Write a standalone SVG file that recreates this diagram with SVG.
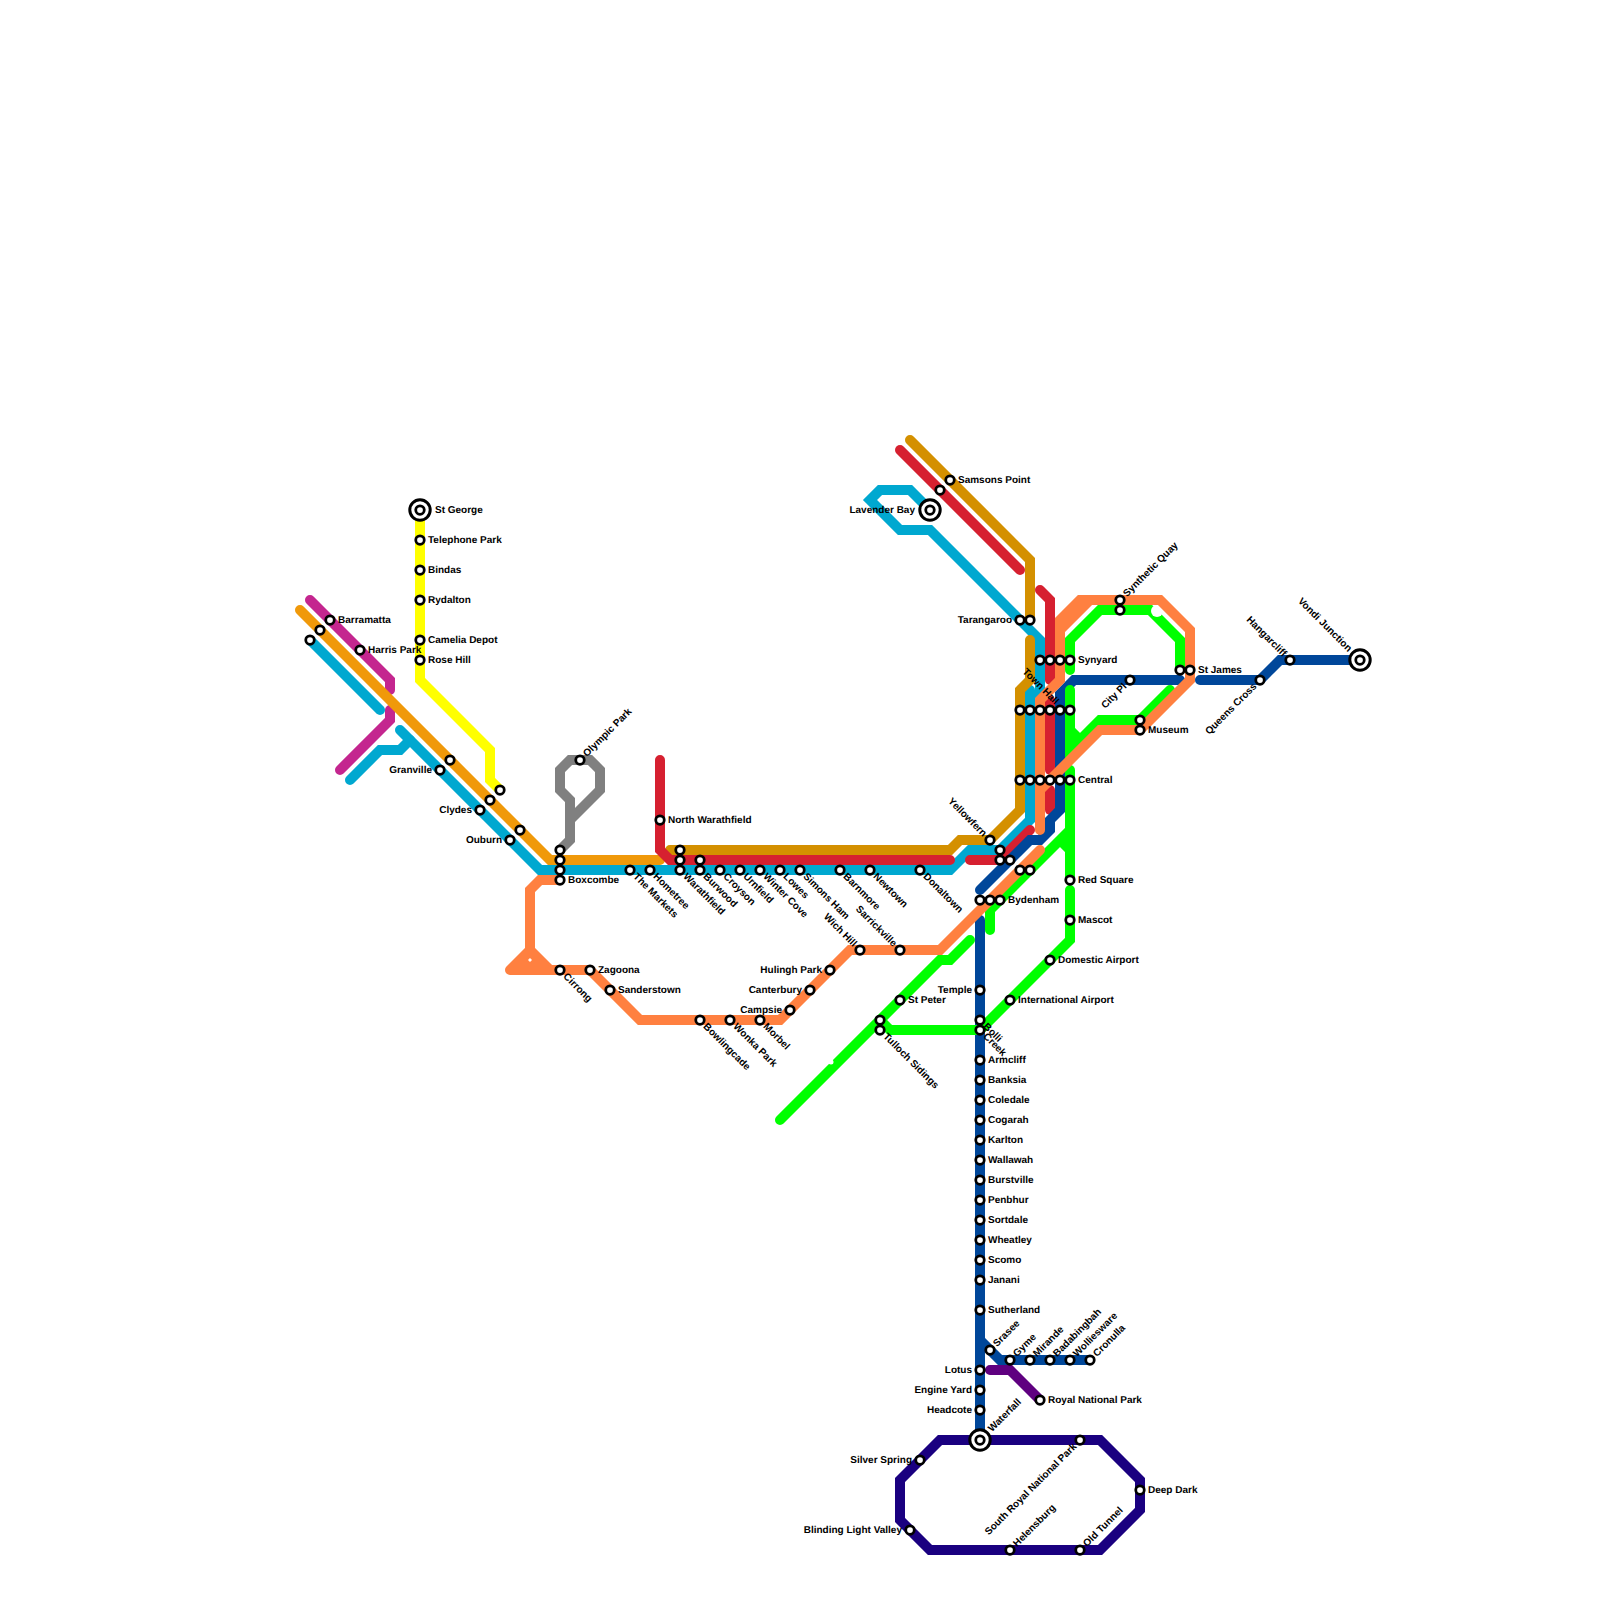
<svg xmlns="http://www.w3.org/2000/svg" width="1600" height="1600" viewBox="0 0 1600 1600">
<style>
.l{fill:none;stroke-width:10;stroke-linecap:round;stroke-linejoin:miter}
.s{fill:#fff;stroke:#000;stroke-width:2.750}
.i{fill:#fff;stroke:#000;stroke-width:3}
text{font-family:"Liberation Sans",Arial,sans-serif;font-weight:bold;font-size:10px;fill:#000;text-rendering:geometricPrecision}
.e{text-anchor:end}
</style>
<rect width="1600" height="1600" fill="#fff"/>
<g id="connectors">
<path id="line-yellow" class="l" stroke="#ffff00" d="M420 510V680L490 750V780L500 790"/>
<path id="line-magenta-a" class="l" stroke="#c4268f" d="M310 600L390 680V690"/>
<path id="line-magenta-b" class="l" stroke="#c4268f" d="M390 710V720L340 770"/>
<path id="line-amber" class="l" stroke="#f0990a" d="M300 610L550 860H660"/>
<path id="line-blue-a" class="l" stroke="#00a8d0" d="M310 640L380 710"/>
<path id="line-blue-b" class="l" stroke="#00a8d0" d="M350 780L380 750H400L410 740"/>
<path id="line-blue-c" class="l" stroke="#00a8d0" d="M400 730L540 870H950L970 850H1000L1030 820V690"/>
<path id="line-blue-d" class="l" stroke="#00a8d0" d="M1040 700V640L930 530H900L870 500L880 490H910L930 510"/>
<path id="line-gray" class="l" stroke="#808080" d="M560 850L570 840V800L560 790V770L570 760H590L600 770V790L570 820"/>
<path id="line-gold-a" class="l" stroke="#d49000" d="M910 440L1030 560V620"/>
<path id="line-gold-b" class="l" stroke="#d49000" d="M1030 640V680L1020 690V810L990 840H960L950 850H670"/>
<path id="line-red-a" class="l" stroke="#d62030" d="M660 760V850L670 860H950"/>
<path id="line-red-b" class="l" stroke="#d62030" d="M970 860H1000L1030 830"/>
<path id="line-red-c" class="l" stroke="#d62030" d="M900 450L1020 570"/>
<path id="line-red-d" class="l" stroke="#d62030" d="M1040 590L1050 600V680"/>
<path id="line-red-e" class="l" stroke="#d62030" d="M1050 700V770"/>
<path id="line-red-f" class="l" stroke="#d62030" d="M1050 790V810"/>
<path id="line-navy-a" class="l" stroke="#00479a" d="M980 920V1440"/>
<path id="line-navy-b" class="l" stroke="#00479a" d="M980 890L1030 840H1040L1050 830V820L1060 810V694L1074 680H1180"/>
<path id="line-navy-c" class="l" stroke="#00479a" d="M1200 680H1260L1280 660H1360"/>
<path id="line-navy-d" class="l" stroke="#00479a" d="M980 1340L1000 1360H1090"/>
<path id="line-purple" class="l" stroke="#5f0080" d="M990 1370H1010L1040 1400"/>
<path id="line-dark" class="l" stroke="#1a0080" d="M980 1440H1100L1140 1480V1510L1100 1550H930L900 1520V1480L940 1440H980"/>
<path id="line-green-a" class="l" stroke="#00ff00" d="M780 1120L940 960H950L970 940"/>
<circle cx="831" cy="1062" r="2.500" fill="#fff"/>
<path id="line-green-c" class="l" stroke="#00ff00" d="M880 1020L890 1030H980L1070 940V890"/>
<path id="line-green-d" class="l" stroke="#00ff00" d="M990 930V910L1070 830M1060 840L1070 850V878"/>
<path id="line-green-e" class="l" stroke="#00ff00" d="M1070 770V850"/>
<path id="line-green-f" class="l" stroke="#00ff00" d="M1070 670V640L1100 610H1150L1180 640V670"/>
<path id="line-green-g" class="l" stroke="#00ff00" d="M1070 690V750L1100 720H1140L1170 690"/>
<path id="line-green-h" class="l" stroke="#00ff00" d="M1070 730L1080 740"/>
<circle cx="1157" cy="611" r="6" fill="#fff"/>
<path id="line-orange-a" class="l" stroke="#ff8040" d="M560 880H540L530 890V950"/>
<path id="line-orange-t" d="M530 950L510 970H550Z" fill="#ff8040" stroke="#ff8040" stroke-width="10" stroke-linejoin="round"/>
<polygon points="530,958 532,960 530,962 528,960" fill="#fff"/>
<path id="line-orange-b" class="l" stroke="#ff8040" d="M550 970H590L640 1020H780L850 950H940L1040 850"/>
<path id="line-orange-c" class="l" stroke="#ff8040" d="M1040 830V790L1100 730H1140L1190 680V630L1160 600H1080L1060 620V680L1040 700V790M1060 630L1090 600"/>
</g>
<g id="st-george"><circle class="i" cx="420" cy="510" r="10.200"/><circle class="s" cx="420" cy="510" r="4.250"/><text x="435" y="513">St George</text></g>
<g id="telephone-park"><circle class="s" cx="420" cy="540" r="4.250"/><text x="428" y="543">Telephone Park</text></g>
<g id="bindas"><circle class="s" cx="420" cy="570" r="4.250"/><text x="428" y="573">Bindas</text></g>
<g id="rydalton"><circle class="s" cx="420" cy="600" r="4.250"/><text x="428" y="603">Rydalton</text></g>
<g id="camelia-depot"><circle class="s" cx="420" cy="640" r="4.250"/><text x="428" y="643">Camelia Depot</text></g>
<g id="rose-hill"><circle class="s" cx="420" cy="660" r="4.250"/><text x="428" y="663">Rose Hill</text></g>
<g id="barramatta-3"><circle class="s" cx="310" cy="640" r="4.250"/></g>
<g id="barramatta-2"><circle class="s" cx="320" cy="630" r="4.250"/></g>
<g id="barramatta"><circle class="s" cx="330" cy="620" r="4.250"/><text x="338" y="623">Barramatta</text></g>
<g id="harris-park"><circle class="s" cx="360" cy="650" r="4.250"/><text x="368" y="653">Harris Park</text></g>
<g id="granville"><circle class="s" cx="440" cy="770" r="4.250"/><text class="e" x="432" y="773">Granville</text></g>
<g id="granville-2"><circle class="s" cx="450" cy="760" r="4.250"/></g>
<g id="clydes"><circle class="s" cx="480" cy="810" r="4.250"/><text class="e" x="472" y="813">Clydes</text></g>
<g id="clydes-2"><circle class="s" cx="490" cy="800" r="4.250"/></g>
<g id="clydes-3"><circle class="s" cx="500" cy="790" r="4.250"/></g>
<g id="ouburn"><circle class="s" cx="510" cy="840" r="4.250"/><text class="e" x="502" y="843">Ouburn</text></g>
<g id="ouburn-2"><circle class="s" cx="520" cy="830" r="4.250"/></g>
<g id="boxcombe-1"><circle class="s" cx="560" cy="850" r="4.250"/></g>
<g id="boxcombe-2"><circle class="s" cx="560" cy="860" r="4.250"/></g>
<g id="boxcombe-3"><circle class="s" cx="560" cy="870" r="4.250"/></g>
<g id="boxcombe"><circle class="s" cx="560" cy="880" r="4.250"/><text x="568" y="883">Boxcombe</text></g>
<g id="olympic-park"><circle class="s" cx="580" cy="760" r="4.250"/><text transform="translate(580 760) rotate(-45)" x="7" y="3">Olympic Park</text></g>
<g id="north-warathfield"><circle class="s" cx="660" cy="820" r="4.250"/><text x="668" y="823">North Warathfield</text></g>
<g id="the-markets"><circle class="s" cx="630" cy="870" r="4.250"/><text transform="translate(630 870) rotate(45)" x="7" y="3">The Markets</text></g>
<g id="hometree"><circle class="s" cx="650" cy="870" r="4.250"/><text transform="translate(650 870) rotate(45)" x="7" y="3">Hometree</text></g>
<g id="warathfield-1"><circle class="s" cx="680" cy="850" r="4.250"/></g>
<g id="warathfield-2"><circle class="s" cx="680" cy="860" r="4.250"/></g>
<g id="warathfield"><circle class="s" cx="680" cy="870" r="4.250"/><text transform="translate(680 870) rotate(45)" x="7" y="3">Warathfield</text></g>
<g id="burwood-2"><circle class="s" cx="700" cy="860" r="4.250"/></g>
<g id="burwood"><circle class="s" cx="700" cy="870" r="4.250"/><text transform="translate(700 870) rotate(45)" x="7" y="3">Burwood</text></g>
<g id="croyson"><circle class="s" cx="720" cy="870" r="4.250"/><text transform="translate(720 870) rotate(45)" x="7" y="3">Croyson</text></g>
<g id="urnfield"><circle class="s" cx="740" cy="870" r="4.250"/><text transform="translate(740 870) rotate(45)" x="7" y="3">Urnfield</text></g>
<g id="winter-cove"><circle class="s" cx="760" cy="870" r="4.250"/><text transform="translate(760 870) rotate(45)" x="7" y="3">Winter Cove</text></g>
<g id="lowes"><circle class="s" cx="780" cy="870" r="4.250"/><text transform="translate(780 870) rotate(45)" x="7" y="3">Lowes</text></g>
<g id="simons-ham"><circle class="s" cx="800" cy="870" r="4.250"/><text transform="translate(800 870) rotate(45)" x="7" y="3">Simons Ham</text></g>
<g id="barnmore"><circle class="s" cx="840" cy="870" r="4.250"/><text transform="translate(840 870) rotate(45)" x="7" y="3">Barnmore</text></g>
<g id="newtown"><circle class="s" cx="870" cy="870" r="4.250"/><text transform="translate(870 870) rotate(45)" x="7" y="3">Newtown</text></g>
<g id="donaltown"><circle class="s" cx="920" cy="870" r="4.250"/><text transform="translate(920 870) rotate(45)" x="7" y="3">Donaltown</text></g>
<g id="lavender-bay"><circle class="i" cx="930" cy="510" r="10.200"/><circle class="s" cx="930" cy="510" r="4.250"/><text class="e" x="915" y="513">Lavender Bay</text></g>
<g id="samsons-2"><circle class="s" cx="940" cy="490" r="4.250"/></g>
<g id="samsons-point"><circle class="s" cx="950" cy="480" r="4.250"/><text x="958" y="483">Samsons Point</text></g>
<g id="tarangaroo"><circle class="s" cx="1020" cy="620" r="4.250"/><text class="e" x="1012" y="623">Tarangaroo</text></g>
<g id="tarangaroo-2"><circle class="s" cx="1030" cy="620" r="4.250"/></g>
<g id="synyard-1"><circle class="s" cx="1040" cy="660" r="4.250"/></g>
<g id="synyard-2"><circle class="s" cx="1050" cy="660" r="4.250"/></g>
<g id="synyard-3"><circle class="s" cx="1060" cy="660" r="4.250"/></g>
<g id="synyard"><circle class="s" cx="1070" cy="660" r="4.250"/><text x="1078" y="663">Synyard</text></g>
<g id="town-hall-1"><circle class="s" cx="1020" cy="710" r="4.250"/></g>
<g id="town-hall-2"><circle class="s" cx="1030" cy="710" r="4.250"/></g>
<g id="town-hall-3"><circle class="s" cx="1040" cy="710" r="4.250"/></g>
<g id="town-hall"><circle class="s" cx="1050" cy="710" r="4.250"/><text class="e" transform="translate(1050 710) rotate(45)" x="0" y="-7">Town Hall</text></g>
<g id="town-hall-5"><circle class="s" cx="1060" cy="710" r="4.250"/></g>
<g id="town-hall-6"><circle class="s" cx="1070" cy="710" r="4.250"/></g>
<g id="central-1"><circle class="s" cx="1020" cy="780" r="4.250"/></g>
<g id="central-2"><circle class="s" cx="1030" cy="780" r="4.250"/></g>
<g id="central-3"><circle class="s" cx="1040" cy="780" r="4.250"/></g>
<g id="central-4"><circle class="s" cx="1050" cy="780" r="4.250"/></g>
<g id="central-5"><circle class="s" cx="1060" cy="780" r="4.250"/></g>
<g id="central"><circle class="s" cx="1070" cy="780" r="4.250"/><text x="1078" y="783">Central</text></g>
<g id="synthetic-quay"><circle class="s" cx="1120" cy="600" r="4.250"/><text transform="translate(1120 600) rotate(-45)" x="7" y="3">Synthetic Quay</text></g>
<g id="synthetic-quay-2"><circle class="s" cx="1120" cy="610" r="4.250"/></g>
<g id="city-pl"><circle class="s" cx="1130" cy="680" r="4.250"/><text class="e" transform="translate(1130 680) rotate(-45)" x="-7" y="3">City Pl</text></g>
<g id="st-james-2"><circle class="s" cx="1180" cy="670" r="4.250"/></g>
<g id="st-james"><circle class="s" cx="1190" cy="670" r="4.250"/><text x="1198" y="673">St James</text></g>
<g id="museum-2"><circle class="s" cx="1140" cy="720" r="4.250"/></g>
<g id="museum"><circle class="s" cx="1140" cy="730" r="4.250"/><text x="1148" y="733">Museum</text></g>
<g id="queens-cross"><circle class="s" cx="1260" cy="680" r="4.250"/><text class="e" transform="translate(1260 680) rotate(-45)" x="-7" y="3">Queens Cross</text></g>
<g id="hangarcliff"><circle class="s" cx="1290" cy="660" r="4.250"/><text class="e" transform="translate(1290 660) rotate(45)" x="-7" y="3">Hangarcliff</text></g>
<g id="vondi-junction"><circle class="i" cx="1360" cy="660" r="10.200"/><circle class="s" cx="1360" cy="660" r="4.250"/><text class="e" transform="translate(1360 660) rotate(45)" x="-14" y="3">Vondi Junction</text></g>
<g id="yellowfern"><circle class="s" cx="990" cy="840" r="4.250"/><text class="e" transform="translate(990 840) rotate(45)" x="-7" y="3">Yellowfern</text></g>
<g id="yf-2"><circle class="s" cx="1000" cy="850" r="4.250"/></g>
<g id="yf-3"><circle class="s" cx="1000" cy="860" r="4.250"/></g>
<g id="yf-4"><circle class="s" cx="1010" cy="860" r="4.250"/></g>
<g id="yf-5"><circle class="s" cx="1020" cy="870" r="4.250"/></g>
<g id="yf-6"><circle class="s" cx="1030" cy="870" r="4.250"/></g>
<g id="bydenham-1"><circle class="s" cx="980" cy="900" r="4.250"/></g>
<g id="bydenham-2"><circle class="s" cx="990" cy="900" r="4.250"/></g>
<g id="bydenham"><circle class="s" cx="1000" cy="900" r="4.250"/><text x="1008" y="903">Bydenham</text></g>
<g id="red-square"><circle class="s" cx="1070" cy="880" r="4.250"/><text x="1078" y="883">Red Square</text></g>
<g id="mascot"><circle class="s" cx="1070" cy="920" r="4.250"/><text x="1078" y="923">Mascot</text></g>
<g id="domestic-airport"><circle class="s" cx="1050" cy="960" r="4.250"/><text x="1058" y="963">Domestic Airport</text></g>
<g id="international-airport"><circle class="s" cx="1010" cy="1000" r="4.250"/><text x="1018" y="1003">International Airport</text></g>
<g id="st-peter"><circle class="s" cx="900" cy="1000" r="4.250"/><text x="908" y="1003">St Peter</text></g>
<g id="tulloch-2"><circle class="s" cx="880" cy="1020" r="4.250"/></g>
<g id="tulloch-sidings"><circle class="s" cx="880" cy="1030" r="4.250"/><text transform="translate(880 1030) rotate(45)" x="7" y="3">Tulloch Sidings</text></g>
<g id="sarrickville"><circle class="s" cx="900" cy="950" r="4.250"/><text class="e" transform="translate(900 950) rotate(45)" x="-7" y="3">Sarrickville</text></g>
<g id="wich-hill"><circle class="s" cx="860" cy="950" r="4.250"/><text class="e" transform="translate(860 950) rotate(45)" x="-7" y="3">Wich Hill</text></g>
<g id="hulingh-park"><circle class="s" cx="830" cy="970" r="4.250"/><text class="e" x="822" y="973">Hulingh Park</text></g>
<g id="canterbury"><circle class="s" cx="810" cy="990" r="4.250"/><text class="e" x="802" y="993">Canterbury</text></g>
<g id="campsie"><circle class="s" cx="790" cy="1010" r="4.250"/><text class="e" x="782" y="1013">Campsie</text></g>
<g id="morbel"><circle class="s" cx="760" cy="1020" r="4.250"/><text transform="translate(760 1020) rotate(45)" x="7" y="3">Morbel</text></g>
<g id="wonka-park"><circle class="s" cx="730" cy="1020" r="4.250"/><text transform="translate(730 1020) rotate(45)" x="7" y="3">Wonka Park</text></g>
<g id="bowlingcade"><circle class="s" cx="700" cy="1020" r="4.250"/><text transform="translate(700 1020) rotate(45)" x="7" y="3">Bowlingcade</text></g>
<g id="sanderstown"><circle class="s" cx="610" cy="990" r="4.250"/><text x="618" y="993">Sanderstown</text></g>
<g id="zagoona"><circle class="s" cx="590" cy="970" r="4.250"/><text x="598" y="973">Zagoona</text></g>
<g id="cirrong"><circle class="s" cx="560" cy="970" r="4.250"/><text transform="translate(560 970) rotate(45)" x="7" y="3">Cirrong</text></g>
<g id="temple"><circle class="s" cx="980" cy="990" r="4.250"/><text class="e" x="972" y="993">Temple</text></g>
<g id="bolli-2"><circle class="s" cx="980" cy="1020" r="4.250"/></g>
<g id="bolli-creek"><circle class="s" cx="980" cy="1030" r="4.250"/><text transform="translate(980 1020) rotate(45)" x="7" y="3">Bolli</text><text transform="translate(980 1030) rotate(45)" x="7" y="3">Creek</text></g>
<g id="armcliff"><circle class="s" cx="980" cy="1060" r="4.250"/><text x="988" y="1063">Armcliff</text></g>
<g id="banksia"><circle class="s" cx="980" cy="1080" r="4.250"/><text x="988" y="1083">Banksia</text></g>
<g id="coledale"><circle class="s" cx="980" cy="1100" r="4.250"/><text x="988" y="1103">Coledale</text></g>
<g id="cogarah"><circle class="s" cx="980" cy="1120" r="4.250"/><text x="988" y="1123">Cogarah</text></g>
<g id="karlton"><circle class="s" cx="980" cy="1140" r="4.250"/><text x="988" y="1143">Karlton</text></g>
<g id="wallawah"><circle class="s" cx="980" cy="1160" r="4.250"/><text x="988" y="1163">Wallawah</text></g>
<g id="burstville"><circle class="s" cx="980" cy="1180" r="4.250"/><text x="988" y="1183">Burstville</text></g>
<g id="penbhur"><circle class="s" cx="980" cy="1200" r="4.250"/><text x="988" y="1203">Penbhur</text></g>
<g id="sortdale"><circle class="s" cx="980" cy="1220" r="4.250"/><text x="988" y="1223">Sortdale</text></g>
<g id="wheatley"><circle class="s" cx="980" cy="1240" r="4.250"/><text x="988" y="1243">Wheatley</text></g>
<g id="scomo"><circle class="s" cx="980" cy="1260" r="4.250"/><text x="988" y="1263">Scomo</text></g>
<g id="janani"><circle class="s" cx="980" cy="1280" r="4.250"/><text x="988" y="1283">Janani</text></g>
<g id="sutherland"><circle class="s" cx="980" cy="1310" r="4.250"/><text x="988" y="1313">Sutherland</text></g>
<g id="srasee"><circle class="s" cx="990" cy="1350" r="4.250"/><text transform="translate(990 1350) rotate(-45)" x="7" y="3">Srasee</text></g>
<g id="gyme"><circle class="s" cx="1010" cy="1360" r="4.250"/><text transform="translate(1010 1360) rotate(-45)" x="7" y="3">Gyme</text></g>
<g id="mirande"><circle class="s" cx="1030" cy="1360" r="4.250"/><text transform="translate(1030 1360) rotate(-45)" x="7" y="3">Mirande</text></g>
<g id="badabingbah"><circle class="s" cx="1050" cy="1360" r="4.250"/><text transform="translate(1050 1360) rotate(-45)" x="7" y="3">Badabingbah</text></g>
<g id="wollIesware"><circle class="s" cx="1070" cy="1360" r="4.250"/><text transform="translate(1070 1360) rotate(-45)" x="7" y="3">Wolliesware</text></g>
<g id="cronulla"><circle class="s" cx="1090" cy="1360" r="4.250"/><text transform="translate(1090 1360) rotate(-45)" x="7" y="3">Cronulla</text></g>
<g id="lotus"><circle class="s" cx="980" cy="1370" r="4.250"/><text class="e" x="972" y="1373">Lotus</text></g>
<g id="engine-yard"><circle class="s" cx="980" cy="1390" r="4.250"/><text class="e" x="972" y="1393">Engine Yard</text></g>
<g id="headcote"><circle class="s" cx="980" cy="1410" r="4.250"/><text class="e" x="972" y="1413">Headcote</text></g>
<g id="royal-national-park"><circle class="s" cx="1040" cy="1400" r="4.250"/><text x="1048" y="1403">Royal National Park</text></g>
<g id="waterfall"><circle class="i" cx="980" cy="1440" r="10.200"/><circle class="s" cx="980" cy="1440" r="4.250"/><text transform="translate(980 1440) rotate(-45)" x="14" y="3">Waterfall</text></g>
<g id="silver-spring"><circle class="s" cx="920" cy="1460" r="4.250"/><text class="e" x="912" y="1463">Silver Spring</text></g>
<g id="blinding-light-valley"><circle class="s" cx="910" cy="1530" r="4.250"/><text class="e" x="902" y="1533">Blinding Light Valley</text></g>
<g id="helensburg"><circle class="s" cx="1010" cy="1550" r="4.250"/><text transform="translate(1010 1550) rotate(-45)" x="7" y="3">Helensburg</text></g>
<g id="old-tunnel"><circle class="s" cx="1080" cy="1550" r="4.250"/><text transform="translate(1080 1550) rotate(-45)" x="7" y="3">Old Tunnel</text></g>
<g id="south-royal-national-park"><circle class="s" cx="1080" cy="1440" r="4.250"/><text class="e" transform="translate(1080 1440) rotate(-45)" x="-7" y="3">South Royal National Park</text></g>
<g id="deep-dark"><circle class="s" cx="1140" cy="1490" r="4.250"/><text x="1148" y="1493">Deep Dark</text></g>
</svg>
